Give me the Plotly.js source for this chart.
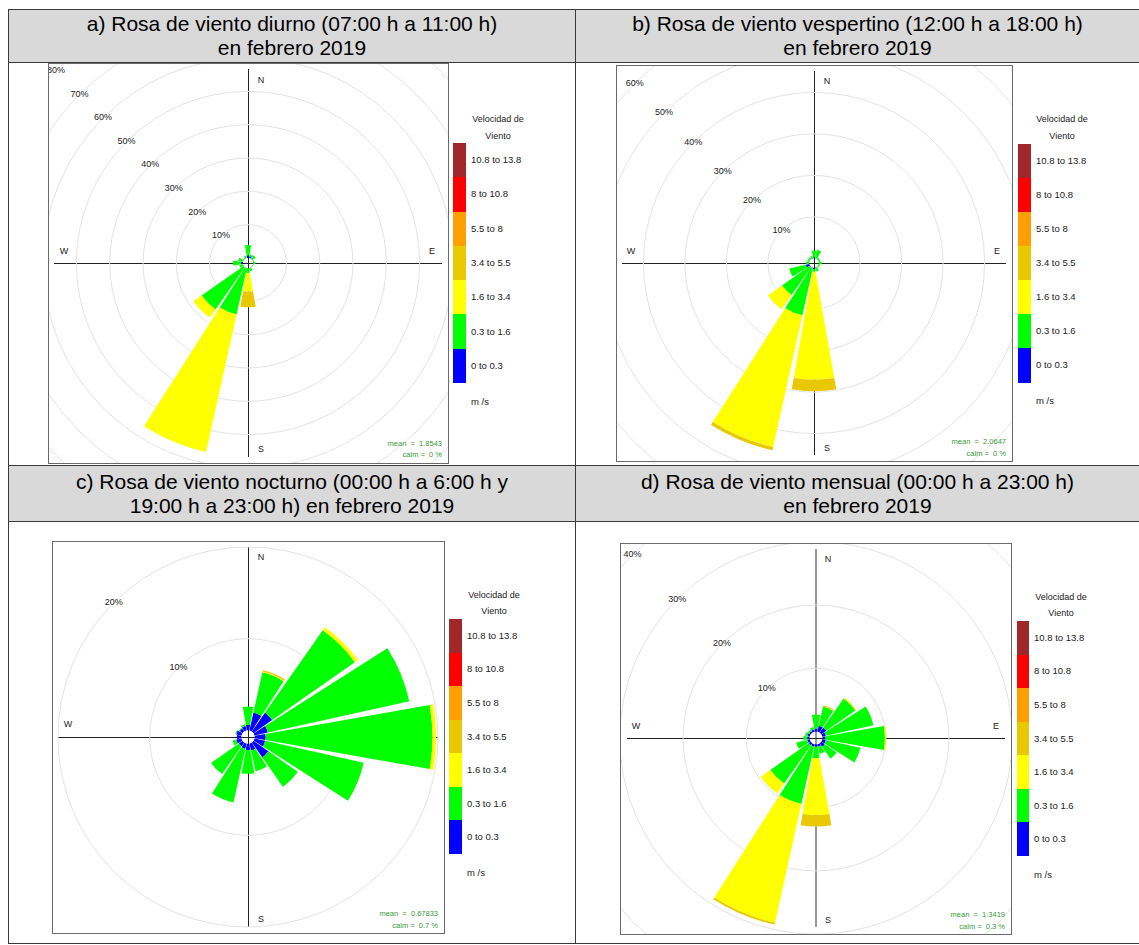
<!DOCTYPE html>
<html><head><meta charset="utf-8">
<script src="https://cdn.plot.ly/plotly-3.0.1.min.js"></script>
<style>
body{margin:0;background:#fff;font-family:"Liberation Sans",Arial,sans-serif;}
#page{position:relative;width:1139px;height:945px;overflow:hidden;background:#fff;}
.hdr{position:absolute;background:#d9d9d9;text-align:center;font-size:21px;line-height:24px;color:#000;display:flex;flex-direction:column;justify-content:center;align-items:center;}
.ln{position:absolute;background:#3a3a3a;}
.frame{position:absolute;box-sizing:border-box;border:1px solid #6a6a6a;overflow:hidden;background:#fff;}
.plot{position:absolute;}
.t{position:absolute;font-size:9px;color:#222;white-space:pre;transform:translate(-50%,-50%);line-height:1;}
.tl{position:absolute;font-size:9.5px;color:#222;white-space:pre;transform:translate(0,-50%);line-height:1;}
.tr{position:absolute;font-size:7.5px;color:#3a9a3a;white-space:pre;transform:translate(-100%,-50%);line-height:1;}
.box{position:absolute;}
</style>
</head><body><div id="page"></div>
<script>
// ---------- data ----------
const dirNames = ['N','NNE','NE','ENE','E','ESE','SE','SSE','S','SSW','SW','WSW','W','WNW','NW','NNW'];
const dirDeg   = [0,22.5,45,67.5,90,112.5,135,157.5,180,202.5,225,247.5,270,292.5,315,337.5];
const bandLabels = ['0 to 0.3','0.3 to 1.6','1.6 to 3.4','3.4 to 5.5','5.5 to 8','8 to 10.8','10.8 to 13.8'];
const bandColors = ['#0000ff','#00ff00','#ffff00','#e8c800','#ffa000','#ff0000','#a0282a'];

// a) diurno - frequency (%) per speed band, per direction
const a_blue    = [0.8,0.6,0.1,0.05,0.05,0.05,0.05,0.1,0.1,0.1,0.1,0.1,0.6,0.1,0.05,0.1];
const a_green   = [3.1,0.5,1.2,0.3,0.7,0.2,0.2,0.9,1.4,14.2,15.4,1.1,2.4,1.4,0.3,0.7];
const a_yellow  = [0,0,0,0,0,0,0,0,5.6,42.3,3.0,0,0,0,0,0];
const a_dyellow = [0,0,0,0,0,0,0,0,4.7,0,0,0,0,0,0,0];

// b) vespertino
const b_blue    = [0.3,0.05,0.05,0.05,0.05,0.05,0.05,0.1,0.4,0.1,0.2,0.9,0.1,0.05,0.05,0.1];
const b_green   = [1.6,2.1,0.4,0.5,0.7,0.4,0.3,0.9,0.6,11.7,8.1,4.1,0.7,0.5,0.5,0.5];
const b_yellow  = [0,0,0,0,0,0,0,0,26.0,32.5,4.2,0,0,0,0,0];
const b_dyellow = [0,0,0,0,0,0,0,0,2.8,0.8,0,0,0,0,0,0];

// c) nocturno
const c_blue    = [0.6,2.0,2.5,1.5,1.2,1.2,2.0,0.8,0.7,0.6,0.5,0.6,0.5,0.6,0.4,0.5];
const c_green   = [2.0,4.5,11.0,15.8,18.2,11.0,3.9,2.3,2.6,6.0,3.7,0.4,0,0.1,0.1,0.2];
const c_yellow  = [0,0.1,0.4,0,0.4,0,0,0,0,0,0,0,0,0,0,0];
const c_dyellow = [0,0.15,0,0,0,0,0,0,0,0,0,0,0,0,0,0];

// d) mensual
const d_blue    = [0.5,1.0,1.0,0.6,0.5,0.6,0.7,0.4,0.4,0.4,0.4,0.4,0.4,0.4,0.3,0.4];
const d_green   = [2.2,3.1,5.6,7.7,9.4,5.6,2.3,1.2,1.8,9.3,7.4,1.8,0.6,0.4,0.3,0.4];
const d_yellow  = [0,0.05,0.2,0,0.2,0,0,0,9.0,19.2,1.9,0,0,0,0,0];
const d_dyellow = [0,0.15,0,0,0,0,0,0,1.8,0.3,0,0,0,0,0,0];

const titles = [
  ['a) Rosa de viento diurno (07:00 h a 11:00 h)','en febrero 2019'],
  ['b) Rosa de viento vespertino (12:00 h a 18:00 h)','en febrero 2019'],
  ['c) Rosa de viento nocturno (00:00 h a 6:00 h y','19:00 h a 23:00 h) en febrero 2019'],
  ['d) Rosa de viento mensual (00:00 h a 23:00 h)','en febrero 2019']
];
const meanVals = ['1.8543','2.0647','0.67833','1.3419'];
const calmVals = ['0 %','0 %','0.7 %','0.3 %'];
const ringTicksA = [10,20,30,40,50,60,70,80];
const ringTicksB = [10,20,30,40,50,60];
const ringTicksC = [10,20];
const ringTicksD = [10,20,30,40];
const legendTitle = ['Velocidad de','Viento'];
const unitLabel = 'm /s';

// ---------- layout (positions / styles) ----------
const page = document.getElementById('page');
function el(cls, css, txt){const d=document.createElement('div');d.className=cls;Object.assign(d.style,css);if(txt!==undefined)d.textContent=txt;page.appendChild(d);return d;}
const px = v => v+'px';

// table
const hdrBoxes = [[9,10,566,52],[576,10,563,52],[9,466,566,55],[576,466,563,55]];
titles.forEach((t,i)=>{
  const b=hdrBoxes[i];
  const d=el('hdr',{left:px(b[0]),top:px(b[1]),width:px(b[2]),height:px(b[3])});
  t.forEach(s=>{const l=document.createElement('div');l.textContent=s;d.appendChild(l);});
});
[[8,9,1131,1],[8,62,1131,1],[8,465,1131,1],[8,521,1131,1],[8,943,1131,1],[8,9,1,935],[575,9,1,935]]
  .forEach(r=>el('ln',{left:px(r[0]),top:px(r[1]),width:px(r[2]),height:px(r[3])}));

const R = 290, S = 2*R;
const panels = [
  {bands:[a_blue,a_green,a_yellow,a_dyellow], ticks:ringTicksA, frame:[48,63,401,401], c:[248,263], off:5, k:3.333, L:194,
   vcol:'#222', vw:1, lab:{N:[261,80],E:[432,251],S:[261,449],W:[64,251]}, mean:[442,443.5], leg:{x:453,y:143,w:13,h:240,lx:471,tx:498,ty:[119,136],my:402}},
  {bands:[b_blue,b_green,b_yellow,b_dyellow], ticks:ringTicksB, frame:[616,65,397,397], c:[814,263], off:4.6, k:4.15, L:192,
   vcol:'#222', vw:1, lab:{N:[827,81],E:[997,251],S:[827,448],W:[631,251]}, mean:[1006,442], leg:{x:1018,y:144,w:13,h:238,lx:1036,tx:1062,ty:[119,136],my:401}},
  {bands:[c_blue,c_green,c_yellow,c_dyellow], ticks:ringTicksC, frame:[52,541,393,393], c:[248,737], off:6.6, k:9.17, L:190,
   vcol:'#222', vw:1, lab:{N:[261,557],S:[261,919],W:[68,724]}, mean:[438,914], leg:{x:449,y:619,w:13,h:235,lx:467,tx:494,ty:[595,611],my:873}},
  {bands:[d_blue,d_green,d_yellow,d_dyellow], ticks:ringTicksD, frame:[620,543,392,392], c:[816,738], off:6.3, k:6.33, L:189,
   vcol:'#999', vw:2, lab:{N:[828,559],E:[996,726],S:[828,920],W:[636,726]}, mean:[1005,915], leg:{x:1017,y:621,w:12,h:235,lx:1034,tx:1061,ty:[597,613],my:875}}
];

panels.forEach((p,pi)=>{
  const f = el('frame',{left:px(p.frame[0]),top:px(p.frame[1]),width:px(p.frame[2]),height:px(p.frame[3])});
  const inner = document.createElement('div');
  inner.className='plot';
  inner.style.left = px(p.c[0]-p.frame[0]-1-R);
  inner.style.top  = px(p.c[1]-p.frame[1]-1-R);
  inner.style.width=px(S); inner.style.height=px(S);
  f.appendChild(inner);

  const traces = p.bands.map((vals,i)=>({
    type:'barpolar', r:vals, theta:dirDeg, width:20, name:bandLabels[i],
    marker:{color:bandColors[i], line:{width:0}}, hoverinfo:'skip'
  }));
  traces.push({type:'scatterpolar', mode:'text', r:p.ticks, theta:p.ticks.map(()=>315),
    text:p.ticks.map(t=>t+'%'), textfont:{family:'Liberation Sans, Arial', size:9, color:'#222'},
    cliponaxis:false, hoverinfo:'skip'});

  const h = p.L/S, hp = (p.vw===1?0.5:0)/S, hq = 0.5/S;
  const layout = {
    width:S, height:S, margin:{l:0,r:0,t:0,b:0}, showlegend:false,
    paper_bgcolor:'rgba(0,0,0,0)',
    polar:{domain:{x:[0,1],y:[0,1]}, hole:p.off/R, bgcolor:'rgba(0,0,0,0)', barmode:'stack',
      radialaxis:{range:[0,(R-p.off)/p.k], tickmode:'array', tickvals:p.ticks, showticklabels:false,
        ticks:'', showline:false, gridcolor:'#e3e3e3', gridwidth:1},
      angularaxis:{rotation:90, direction:'clockwise', showgrid:false, showline:false, showticklabels:false, ticks:''}},
    shapes:[
      {type:'line', xref:'paper', yref:'paper', x0:0.5+hp, x1:0.5+hp, y0:0.5-h, y1:0.5+h, layer:'below', line:{color:p.vcol, width:p.vw}},
      {type:'line', xref:'paper', yref:'paper', x0:0.5-h, x1:0.5+h, y0:0.5-hq, y1:0.5-hq, layer:'below', line:{color:'#222', width:1}}
    ]
  };
  Plotly.newPlot(inner, traces, layout, {staticPlot:true, displayModeBar:false});

  Object.keys(p.lab).forEach(k=>{ el('t',{left:px(p.lab[k][0]),top:px(p.lab[k][1]),zIndex:5}, k); });
  el('tr',{left:px(p.mean[0]),top:px(p.mean[1]),zIndex:5}, 'mean  =  '+meanVals[pi]);
  el('tr',{left:px(p.mean[0]),top:px(p.mean[1]+11.5),zIndex:5}, 'calm =  '+calmVals[pi]);

  const g = p.leg, bh = g.h/7;
  el('t',{left:px(g.tx),top:px(g.ty[0])}, legendTitle[0]);
  el('t',{left:px(g.tx),top:px(g.ty[1])}, legendTitle[1]);
  for(let i=0;i<7;i++){
    const bi = 6-i;
    el('box',{left:px(g.x),top:px(g.y+i*bh),width:px(g.w),height:px(bh+0.5),background:bandColors[bi]});
    el('tl',{left:px(g.lx),top:px(g.y+(i+0.5)*bh)}, bandLabels[bi]);
  }
  el('tl',{left:px(g.lx),top:px(g.my)}, unitLabel);
});
</script>
</body></html>
